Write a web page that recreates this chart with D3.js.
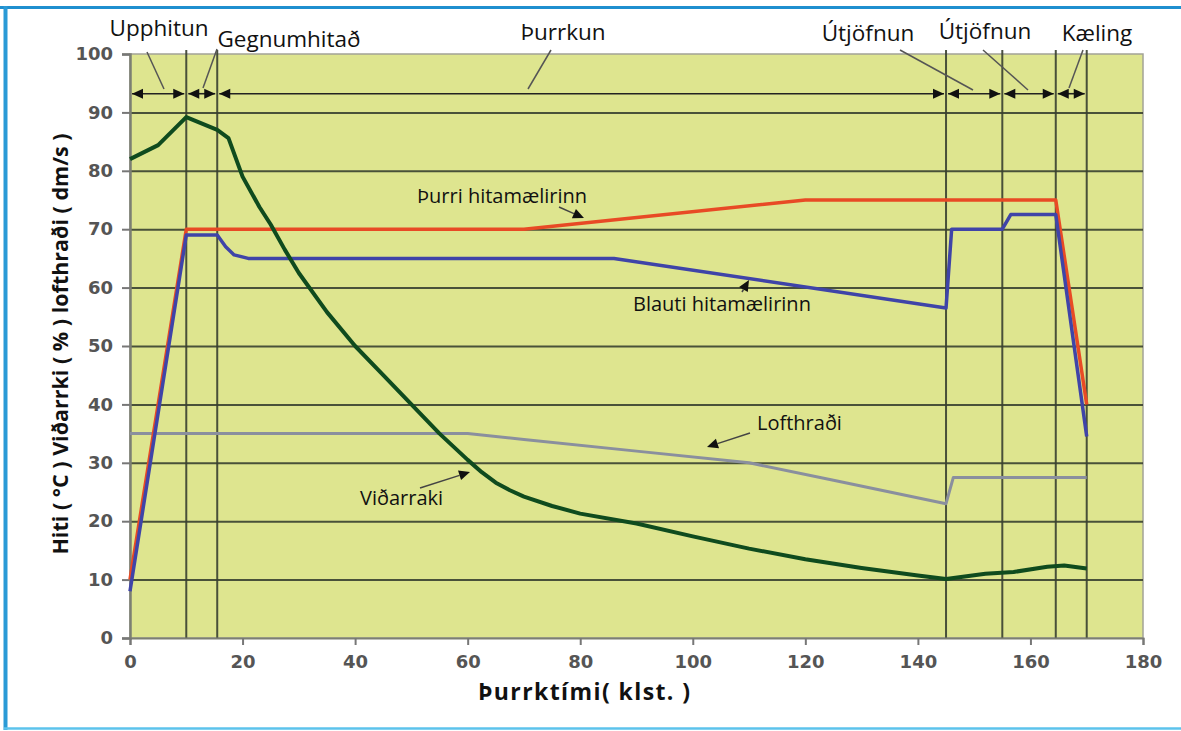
<!DOCTYPE html>
<html>
<head>
<meta charset="utf-8">
<script src="https://cdn.jsdelivr.net/npm/d3@7"></script>
<style>
  body { margin: 0; background: #fff; }
  svg { display: block; }
</style>
</head>
<body>
<script>
'use strict';

// values (x = hours of drying)
const dryX = [0, 10, 70, 120, 164.5, 170];             // Þurri hitamælirinn
const dryY = [10, 70, 70, 75, 75, 40];
const wetX = [0, 10, 15.5, 17, 18.5, 21, 86, 145, 146, 155, 156.5, 164.5, 170]; // Blauti hitamælirinn
const wetY = [8, 69, 69, 67, 65.6, 65, 65, 56.5, 70, 70, 72.5, 72.5, 34.5];
const moistX = [0, 5, 10, 15.5, 17.5, 20, 23, 25, 27.5, 30, 35, 40, 45, 50, 55, 60, 62.5, 65, 67.5, 70, 75, 80, 90, 100, 110, 120, 130, 140, 145, 148, 152, 157, 163, 166, 170]; // Viðarraki
const moistY = [82, 84.4, 89.2, 87, 85.6, 79, 73.8, 70.8, 66.5, 62.5, 55.8, 50, 45, 40, 35, 30.5, 28.4, 26.6, 25.3, 24.2, 22.6, 21.3, 19.6, 17.4, 15.3, 13.5, 12, 10.7, 10.1, 10.5, 11, 11.3, 12.2, 12.4, 11.9];
const airX = [0, 60, 70, 90, 110, 125, 145, 146.3, 170]; // Lofthraði
const airY = [35, 35, 34, 32, 30, 27, 23, 27.5, 27.5];

// phase boundaries and names
const phaseX = [0, 10, 15.5, 145, 155, 164.5, 170];
const phaseNames = ['Upphitun', 'Gegnumhitað', 'Þurrkun', 'Útjöfnun', 'Útjöfnun', 'Kæling'];
const arrowRowY = 93.2;

const xTicks = [0, 20, 40, 60, 80, 100, 120, 140, 160, 180];
const yTicks = [0, 10, 20, 30, 40, 50, 60, 70, 80, 90, 100];

const width = 1181, height = 731;
const plotLeft = 130, plotRight = 1143, plotTop = 54, plotBottom = 638;

const svg = d3.select('body').append('svg')
  .attr('width', width)
  .attr('height', height);

const xScale = d3.scaleLinear().domain([0, 180]).range([plotLeft, plotRight]);
const yScale = d3.scaleLinear().domain([0, 100]).range([plotBottom, plotTop]);

// outer blue frame
svg.append('line').attr('x1', 0).attr('x2', width).attr('y1', 7.5).attr('y2', 7.5)
  .attr('stroke', '#1f8fcf').attr('stroke-width', 3);
svg.append('line').attr('x1', 5.5).attr('x2', 5.5).attr('y1', 6).attr('y2', 730)
  .attr('stroke', '#2a9ad6').attr('stroke-width', 4);
svg.append('line').attr('x1', 4).attr('x2', width).attr('y1', 728.5).attr('y2', 728.5)
  .attr('stroke', '#5cc3ec').attr('stroke-width', 2.5);

// plot background
svg.append('rect')
  .attr('x', plotLeft).attr('y', plotTop)
  .attr('width', plotRight - plotLeft).attr('height', plotBottom - plotTop)
  .attr('fill', '#dee58f')
  .attr('stroke', '#a3a396').attr('stroke-width', 1.5);

// horizontal gridlines
svg.append('g')
  .attr('transform', `translate(${plotLeft},0)`)
  .call(d3.axisLeft(yScale).tickValues(yTicks.slice(1, -1)).tickSize(-(plotRight - plotLeft)).tickFormat(''))
  .call(g => g.select('.domain').remove())
  .call(g => g.selectAll('line').attr('stroke', '#394030').attr('stroke-width', 2).attr('opacity', 0.9));

// phase boundaries (vertical lines)
svg.append('g').selectAll('line')
  .data(phaseX.slice(1))
  .enter().append('line')
  .attr('x1', d => xScale(d)).attr('x2', d => xScale(d))
  .attr('y1', plotTop - 4).attr('y2', plotBottom)
  .attr('stroke', '#394030').attr('stroke-width', 2).attr('opacity', 0.9);

// y axis
svg.append('g')
  .attr('transform', `translate(${plotLeft},0)`)
  .call(d3.axisLeft(yScale).tickValues(yTicks).tickSize(8).tickPadding(9))
  .call(g => g.select('.domain').attr('stroke', '#7c7f73').attr('stroke-width', 2.5))
  .call(g => g.selectAll('.tick line').attr('stroke', '#777').attr('stroke-width', 2))
  .call(g => g.selectAll('text')
    .attr('font-family', 'DejaVu Sans').attr('font-weight', 'bold')
    .attr('font-size', '18px').attr('fill', '#555'));

// x axis
svg.append('g')
  .attr('transform', `translate(0,${plotBottom})`)
  .call(d3.axisBottom(xScale).tickValues(xTicks).tickSize(7).tickPadding(10))
  .call(g => g.select('.domain').attr('stroke', '#7c7f73').attr('stroke-width', 2))
  .call(g => g.selectAll('.tick line').attr('stroke', '#777').attr('stroke-width', 2))
  .call(g => g.selectAll('text')
    .attr('font-family', 'DejaVu Sans').attr('font-weight', 'bold')
    .attr('font-size', '18px').attr('fill', '#555'));

// series lines
const line = d3.line()
  .x(d => xScale(d[0]))
  .y(d => yScale(d[1]));

function drawSeries(xs, ys, color, w) {
  svg.append('path')
    .datum(xs.map((x, i) => [x, ys[i]]))
    .attr('fill', 'none')
    .attr('stroke', color)
    .attr('stroke-width', w)
    .attr('stroke-linejoin', 'round')
    .attr('d', line);
}

drawSeries(airX, airY, '#8a8f9e', 3);
drawSeries(dryX, dryY, '#e84a25', 3.5);
drawSeries(wetX, wetY, '#3f44a8', 3.5);
drawSeries(moistX, moistY, '#0f4b1e', 4);

// phase arrows along the top row
const rowY = yScale(arrowRowY);
function arrowHead(tipX, dir) {
  // dir = 1 points right, -1 points left
  const len = 11, half = 5;
  svg.append('path')
    .attr('d', `M${tipX},${rowY} L${tipX - dir * len},${rowY - half} L${tipX - dir * len},${rowY + half} Z`)
    .attr('fill', '#111');
}
for (let i = 0; i < phaseX.length - 1; i++) {
  const x0 = xScale(phaseX[i]) + 2, x1 = xScale(phaseX[i + 1]) - 2;
  svg.append('line')
    .attr('x1', x0).attr('x2', x1).attr('y1', rowY).attr('y2', rowY)
    .attr('stroke', '#222').attr('stroke-width', 1.6);
  arrowHead(x0, -1);
  arrowHead(x1, 1);
}

// phase labels with leader lines
const phaseLabelPos = [
  { tx: 159, ty: 36, lx: 147, ly: 52, ex: 164, ey: 89 },
  { tx: 289, ty: 47, lx: 217, ly: 49, ex: 203, ey: 88 },
  { tx: 563, ty: 40, lx: 551, ly: 50, ex: 528, ey: 89 },
  { tx: 868, ty: 41, lx: 900, ly: 50, ex: 973, ey: 90 },
  { tx: 985, ty: 39, lx: 983, ly: 50, ex: 1028, ey: 90 },
  { tx: 1097, ty: 41, lx: 1083, ly: 50, ex: 1069, ey: 88 }
];
phaseNames.forEach((name, i) => {
  const p = phaseLabelPos[i];
  svg.append('text')
    .attr('x', p.tx).attr('y', p.ty)
    .attr('text-anchor', 'middle')
    .attr('font-family', 'Open Sans').attr('font-size', '22.5px').attr('fill', '#111')
    .text(name);
  svg.append('line')
    .attr('x1', p.lx).attr('y1', p.ly).attr('x2', p.ex).attr('y2', p.ey)
    .attr('stroke', '#555').attr('stroke-width', 1.5);
});

// series annotations
function annotate(text, tx, ty, ax0, ay0, ax1, ay1) {
  svg.append('text')
    .attr('x', tx).attr('y', ty)
    .attr('font-family', 'Open Sans').attr('font-size', '20px').attr('fill', '#111')
    .text(text);
  const ang = Math.atan2(ay1 - ay0, ax1 - ax0);
  const len = 11, half = 5;
  const bx = ax1 - len * Math.cos(ang), by = ay1 - len * Math.sin(ang);
  svg.append('line')
    .attr('x1', ax0).attr('y1', ay0).attr('x2', bx).attr('y2', by)
    .attr('stroke', '#444').attr('stroke-width', 1.5);
  svg.append('path')
    .attr('d', `M${ax1},${ay1} L${bx - half * Math.sin(ang)},${by + half * Math.cos(ang)} L${bx + half * Math.sin(ang)},${by - half * Math.cos(ang)} Z`)
    .attr('fill', '#111');
}
annotate('Þurri hitamælirinn', 417, 203, 559, 207, 584, 218);
annotate('Blauti hitamælirinn', 633, 311, 742, 292, 749, 280);
annotate('Lofthraði', 757, 430, 750, 433, 707, 447);
annotate('Viðarraki', 360, 505, 420, 488, 470, 472);

// axis titles
svg.append('text')
  .attr('x', 584).attr('y', 700)
  .attr('text-anchor', 'middle')
  .attr('font-family', 'Open Sans').attr('font-weight', 'bold')
  .attr('font-size', '23px').attr('fill', '#111')
  .attr('textLength', 212).attr('lengthAdjust', 'spacing')
  .text('Þurrktími( klst. )');

svg.append('text')
  .attr('transform', 'translate(68, 344)rotate(-90)')
  .attr('text-anchor', 'middle')
  .attr('font-family', 'Open Sans').attr('font-weight', 'bold')
  .attr('font-size', '21.5px').attr('fill', '#111')
  .text('Hiti ( °C ) Viðarrki ( % ) lofthraði ( dm/s )');
</script>
</body>
</html>
